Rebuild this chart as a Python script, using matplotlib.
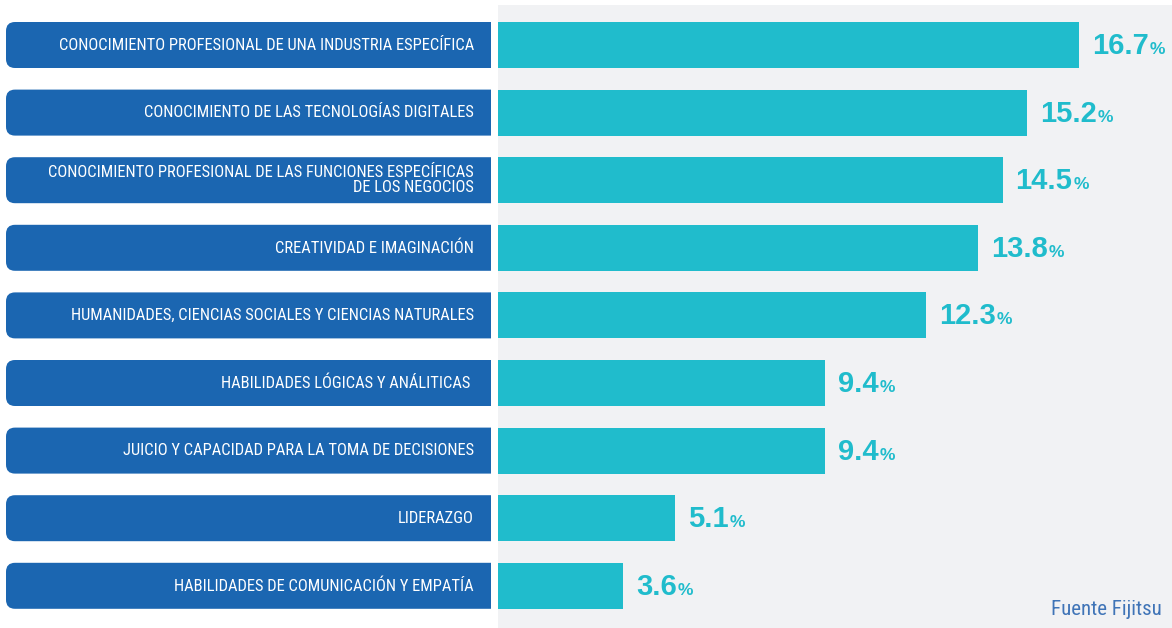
import matplotlib
matplotlib.use("Agg")
import matplotlib.pyplot as plt
import numpy as np
from matplotlib import font_manager
from matplotlib.patches import FancyBboxPatch
from matplotlib.transforms import offset_copy

categories = [
    "CONOCIMIENTO PROFESIONAL DE UNA INDUSTRIA ESPECÍFICA",
    "CONOCIMIENTO DE LAS TECNOLOGÍAS DIGITALES",
    "CONOCIMIENTO PROFESIONAL DE LAS FUNCIONES ESPECÍFICAS\nDE LOS NEGOCIOS",
    "CREATIVIDAD E IMAGINACIÓN",
    "HUMANIDADES, CIENCIAS SOCIALES Y CIENCIAS NATURALES",
    "HABILIDADES LÓGICAS Y ANÁLITICAS ",
    "JUICIO Y CAPACIDAD PARA LA TOMA DE DECISIONES",
    "LIDERAZGO",
    "HABILIDADES DE COMUNICACIÓN Y EMPATÍA",
]
values = [16.7, 15.2, 14.5, 13.8, 12.3, 9.4, 9.4, 5.1, 3.6]
source = "Fuente Fijitsu"

BOX_BLUE = "#1b66b1"
BAR_CYAN = "#20bccc"
PANEL_GREY = "#f1f2f4"
SOURCE_BLUE = "#3f74b7"

available = {f.name for f in font_manager.fontManager.ttflist}


def pick(*names):
    for n in names:
        if n in available:
            return n
    return "DejaVu Sans"


label_font = pick("Liberation Sans Narrow", "DejaVu Sans Condensed", "Roboto Condensed",
                  "Open Sans Condensed", "Liberation Sans")
narrow = label_font != "Liberation Sans"
label_size = 11.9 if narrow else 9.6
value_font = pick("Liberation Sans", "Roboto", "DejaVu Sans")

W, H = 1172, 628
fig = plt.figure(figsize=(W / 100, H / 100), dpi=100)
fig.patch.set_facecolor("white")

pitch = 67.6      # px between rows
first_c = 45      # px from top to first row centre
top_panel = 5
ylim = ((H - first_c) / pitch, (top_panel - first_c) / pitch)
ypos = np.arange(len(categories))
bar_h = 46 / pitch

# right panel with bars
ax = fig.add_axes([498 / W, 0, (W - 498) / W, (H - top_panel) / H])
ax.set_facecolor(PANEL_GREY)
ax.barh(ypos, values, height=bar_h, color=BAR_CYAN)
ax.set_xlim(0, (W - 498) / 34.8)
ax.set_ylim(*ylim)
ax.set_xticks([])
ax.set_yticks([])
for s in ax.spines.values():
    s.set_visible(False)

# left labels, right side of the rounded boxes is clipped by the axes
axl = fig.add_axes([0, 0, 491 / W, (H - top_panel) / H])
axl.set_xlim(0, 491)
axl.set_ylim(*ylim)
axl.axis("off")
for y, lab in zip(ypos, categories):
    axl.add_patch(FancyBboxPatch((6, y - bar_h / 2), 520, bar_h,
                                 boxstyle="round,pad=0,rounding_size=9",
                                 mutation_aspect=1 / pitch, facecolor=BOX_BLUE,
                                 edgecolor="none"))
    axl.text(474, y, lab, ha="right", va="center", color="white",
             family=label_font, fontsize=label_size, linespacing=1.0)

# value labels
fig.canvas.draw()
renderer = fig.canvas.get_renderer()
for y, v in zip(ypos, values):
    tr = offset_copy(ax.transData, fig, x=13, y=-9, units="dots")
    t = ax.text(v, y, f"{v:.1f}", transform=tr, ha="left", va="baseline",
                color=BAR_CYAN, family=value_font, fontweight="bold", fontsize=21)
    w = t.get_window_extent(renderer=renderer).width
    tr2 = offset_copy(ax.transData, fig, x=13 + w + 1, y=-9, units="dots")
    ax.text(v, y, "%", transform=tr2, ha="left", va="baseline",
            color=BAR_CYAN, family=value_font, fontweight="bold", fontsize=12.5)

fig.text(1162 / W, 1 - 615 / H, source, ha="right", va="baseline",
         color=SOURCE_BLUE, family=label_font, fontsize=15 if narrow else 12)

fig.savefig("out.png", dpi=100, facecolor=fig.get_facecolor())
